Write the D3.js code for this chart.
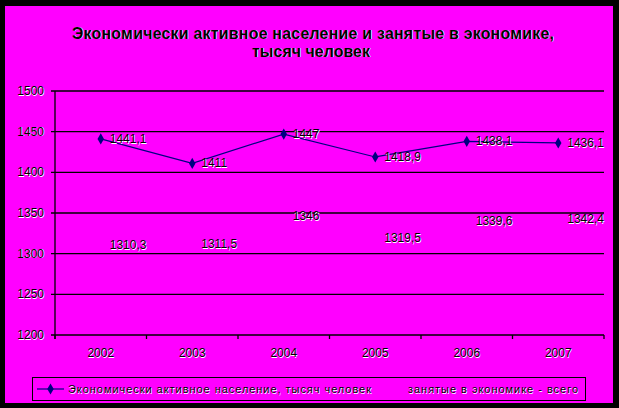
<!DOCTYPE html>
<html><head><meta charset="utf-8">
<script src="https://cdn.jsdelivr.net/npm/d3@7"></script>
<style>body{margin:0;background:#000}svg{display:block}</style>
</head><body>
<script>
const years = ["2002","2003","2004","2005","2006","2007"];
const active = [1441.1, 1411, 1447, 1418.9, 1438.1, 1436.1];
const employed = [1310.3, 1311.5, 1346, 1319.5, 1339.6, 1342.4];
const yTicks = [1200,1250,1300,1350,1400,1450,1500];
const titleLines = ["Экономически активное население и занятые в экономике,", "тысяч человек"];
const legendLabels = ["Экономически активное население, тысяч человек", "занятые в экономике - всего"];

const W = 619, H = 408, BG = "#ff00ff";
const svg = d3.select("body").append("svg").attr("width", W).attr("height", H);
svg.append("rect").attr("width", W).attr("height", H).attr("fill", "#000");
svg.append("rect").attr("x", 5).attr("y", 6).attr("width", 608).attr("height", 397).attr("fill", BG);

const L = 55, R = 604, T = 91, B = 335;
const x = d3.scaleBand().domain(years).range([L, R]);
const y = d3.scaleLinear().domain([1200, 1500]).range([B, T]);
const fmt = v => String(v).replace(".", ",");

function embText(g, xx, yy, txt, opts) {
  const o = Object.assign({size: 11, anchor: "start", weight: "normal", family: "Arial, 'Liberation Sans', sans-serif"}, opts || {});
  const grp = g.append("g");
  [["#ffffff", 0.7, 0.7], ["#000000", 0, 0]].forEach(([c, dx, dy]) => {
    const t = grp.append("text").attr("x", xx + dx).attr("y", yy + dy)
      .attr("font-family", o.family).attr("font-size", o.size).attr("font-weight", o.weight)
      .attr("text-anchor", o.anchor).attr("dominant-baseline", "central").attr("fill", c).text(txt);
    if (o.len) t.attr("textLength", o.len).attr("lengthAdjust", "spacing");
  });
  return grp;
}

// title
embText(svg, 313, 33, titleLines[0], {size: 16, anchor: "middle", weight: "bold", len: 482});
embText(svg, 311, 51, titleLines[1], {size: 16, anchor: "middle", weight: "bold"});

// gridlines
const g = svg.append("g");
g.selectAll("line.grid").data(yTicks).join("line")
  .attr("x1", L - 4).attr("x2", R).attr("y1", d => y(d)).attr("y2", d => y(d))
  .attr("stroke", "#000").attr("stroke-width", 1.3);
// y axis line
g.append("line").attr("x1", L).attr("x2", L).attr("y1", T).attr("y2", B + 4).attr("stroke", "#000").attr("stroke-width", 1.3);
// x ticks
const xt = years.map(d => x(d)).concat([R]);
g.selectAll("line.xt").data(xt).join("line")
  .attr("x1", d => d).attr("x2", d => d).attr("y1", B).attr("y2", B + 4)
  .attr("stroke", "#000").attr("stroke-width", 1.3);

// y labels
yTicks.forEach(t => embText(svg, 44, y(t), String(t), {size: 12, anchor: "end"}));
// x labels
years.forEach(yr => embText(svg, x(yr) + x.bandwidth() / 2, 353, yr, {size: 12, anchor: "middle"}));

const cx = d => x(d) + x.bandwidth() / 2;
// series 1 line
const line = d3.line().x((d, i) => cx(years[i])).y(d => y(d));
svg.append("path").datum(active).attr("d", line).attr("fill", "none").attr("stroke", "#000080").attr("stroke-width", 1.2);
const diamond = d3.symbol().type(d3.symbolDiamond).size(36);
svg.selectAll("path.m").data(active).join("path")
  .attr("transform", (d, i) => `translate(${cx(years[i])},${y(d)})`)
  .attr("d", diamond).attr("fill", "#000080");
active.forEach((v, i) => embText(svg, cx(years[i]) + 9, y(v), fmt(v), {size: 12}));
employed.forEach((v, i) => embText(svg, cx(years[i]) + 9, y(v), fmt(v), {size: 12}));

// legend
svg.append("rect").attr("x", 32.5).attr("y", 377.5).attr("width", 553).attr("height", 23)
  .attr("fill", "none").attr("stroke", "#000").attr("stroke-width", 1);
svg.append("line").attr("x1", 37).attr("x2", 64).attr("y1", 389).attr("y2", 389).attr("stroke", "#000080").attr("stroke-width", 1.2);
svg.append("path").attr("transform", "translate(50.5,389)").attr("d", diamond).attr("fill", "#000080");
embText(svg, 68, 389, legendLabels[0], {size: 11, len: 303});
embText(svg, 408, 389, legendLabels[1], {size: 11, len: 170});
</script>
</body></html>
